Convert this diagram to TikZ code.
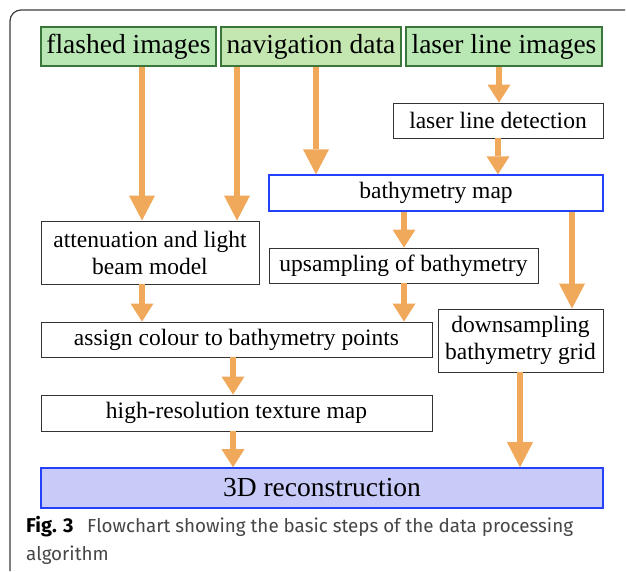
\documentclass[tikz,border=0pt]{standalone}
\usepackage{fontspec}
\setmainfont{Liberation Serif}
\newfontfamily\capfont{Fira Sans}
\usetikzlibrary{arrows.meta}

\definecolor{flowor}{RGB}{240,168,90}
\definecolor{srcgreen}{RGB}{185,232,180}
\definecolor{navgreen}{RGB}{196,230,176}
\definecolor{srcedge}{RGB}{58,118,58}
\definecolor{mapblue}{RGB}{35,65,250}
\definecolor{recfill}{RGB}{200,202,248}
\definecolor{framegray}{RGB}{60,60,60}
\definecolor{captext}{RGB}{70,70,70}

\tikzset{
  box/.style={draw=black!80, line width=0.9pt, fill=white, inner sep=0pt,
              align=center, font=\fontsize{23.5}{27}\selectfont},
  srcbox/.style={box, draw=srcedge, line width=1.3pt, fill=srcgreen,
                 font=\fontsize{27.5}{30}\selectfont},
  mapbox/.style={box, draw=mapblue, line width=1.3pt},
  recbox/.style={box, draw=mapblue, line width=1.6pt, fill=recfill,
                 font=\fontsize{27.5}{30}\selectfont},
  longflow/.style={draw=flowor, line width=6.5pt,
                   -{Triangle[width=26pt,length=25pt,line width=0pt]}},
  shortflow/.style={draw=flowor, line width=6.5pt,
                    -{Triangle[width=23pt,length=18pt,line width=0pt]}},
  captionline/.style={anchor=base west, inner sep=0pt, text=captext,
                      font=\capfont\fontsize{18.8}{22}\selectfont},
}

\begin{document}
\begin{tikzpicture}[x=1pt, y=-1pt]
  \useasboundingbox (0,0) rectangle (627,571);

  % figure frame (open at right and bottom)
  \draw[framegray, line width=1.2pt, rounded corners=11pt] (625,10) -- (10,10) -- (10,571);

  % input data
  \node[srcbox, minimum width=175pt, minimum height=39pt] (fl) at (128.5,46.5) {flashed images};
  \node[srcbox, fill=navgreen, minimum width=180pt, minimum height=39pt] (nav) at (311,46.5) {navigation data};
  \node[srcbox, minimum width=196pt, minimum height=39pt] (las) at (504,46.5) {laser line images};

  % processing steps
  \node[box, minimum width=210pt, minimum height=35pt] (det) at (498,120.5) {laser line detection};
  \node[mapbox, minimum width=334pt, minimum height=36pt] (bat) at (436,193) {bathymetry map};
  \node[box, minimum width=269pt, minimum height=35pt] (ups) at (403.5,265.5) {upsampling of bathymetry};
  \node[box, minimum width=218pt, minimum height=63pt] (att) at (150,252.5) {attenuation and light\\beam model};
  \node[box, minimum width=165pt, minimum height=63pt] (dwn) at (520.5,340.5) {downsampling\\bathymetry grid};
  \node[box, minimum width=391pt, minimum height=35pt] (asg) at (236.5,339.5) {assign colour to bathymetry points};
  \node[box, minimum width=391pt, minimum height=36pt] (hrs) at (236.5,413) {high-resolution texture map};
  \node[recbox, minimum width=562pt, minimum height=40pt] (rec) at (322,488) {3D reconstruction};

  % data flow
  \draw[longflow]  (fl.south  -| 142,0) -- (att.north -| 142,0);
  \draw[longflow]  (nav.south -| 237,0) -- (att.north -| 237,0);
  \draw[longflow]  (nav.south -| 316,0) -- (bat.north -| 316,0);
  \draw[shortflow] (las.south -| 499,0) -- (det.north -| 499,0);
  \draw[shortflow] (det.south -| 498,0) -- (bat.north -| 498,0);
  \draw[shortflow] (bat.south -| 404,0) -- (ups.north -| 404,0);
  \draw[shortflow] (ups.south -| 404,0) -- (asg.north -| 404,0);
  \draw[longflow]  (bat.south -| 572,0) -- (dwn.north -| 572,0);
  \draw[shortflow] (att.south -| 142,0) -- (asg.north -| 142,0);
  \draw[shortflow] (asg.south -| 233,0) -- (hrs.north -| 233,0);
  \draw[shortflow] (hrs.south -| 233,0) -- (rec.north -| 233,0);
  \draw[longflow]  (dwn.south -| 520,0) -- (rec.north -| 520,0);

  % caption
  \node[captionline, text=black, font=\capfont\bfseries\fontsize{20}{22}\selectfont] (capfig) at (26,532) {Fig. 3};
  \node[captionline] (cap1) at (87,532)
    {Flowchart showing the basic steps of the data processing};
  \node[captionline] (cap2) at (26,560) {algorithm};
\end{tikzpicture}
\end{document}
